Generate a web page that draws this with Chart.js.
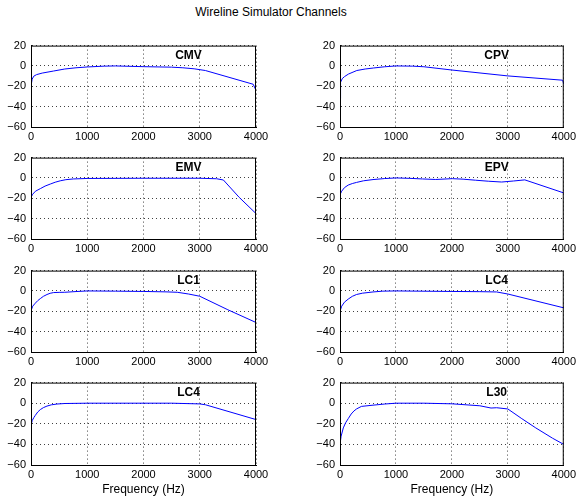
<!DOCTYPE html>
<html>
<head>
<meta charset="utf-8">
<script src="https://cdn.jsdelivr.net/npm/chart.js@4/dist/chart.umd.min.js"></script>
<style>
  body { margin: 0; background: #fff; }
  #fig { position: relative; width: 579px; height: 496px; overflow: hidden; }
  #fig canvas { position: absolute; }
  #suptitle { position: absolute; left: 0; width: 542px; top: 5px; text-align: center;
    font: 12px "Liberation Sans", Arial, sans-serif; color: #000; }
</style>
</head>
<body>
<div id="fig">
  <div id="suptitle">Wireline Simulator Channels</div>
</div>
<script>
// channel names, in subplot order (row by row)
const channelNames = ['CMV', 'CPV', 'EMV', 'EPV', 'LC1', 'LC4', 'LC4', 'L30'];

// frequency (Hz) / attenuation (dB)
const cmvFreq = [0, 20, 50, 100, 200, 400, 600, 800, 1000, 1300, 1500, 2000, 2500, 2700, 2900, 3100, 3950, 4000];
const cmvDb = [-20, -13, -10, -8.5, -7, -5, -3, -1.8, -1, -0.2, 0, -0.7, -1.2, -1.8, -2.8, -4.5, -18, -24];

const cpvFreq = [0, 5, 15, 40, 80, 150, 300, 450, 600, 800, 1000, 1300, 1500, 2000, 3000, 3980, 4000];
const cpvDb = [-32, -22, -16, -12.5, -10.5, -8, -4.5, -3, -2, -0.8, 0, -0.2, -0.8, -4, -9.8, -14, -18];

const emvFreq = [0, 30, 80, 166, 250, 343, 430, 520, 620, 750, 1000, 2000, 3000, 3300, 3420, 3700, 4000];
const emvDb = [-19, -16, -13, -10.5, -8, -6, -4.2, -2.8, -1.7, -1, -0.5, -0.3, -0.3, -0.8, -2, -19, -35];

const epvFreq = [0, 30, 80, 147, 220, 295, 420, 590, 800, 1000, 1250, 1475, 1711, 2006, 2200, 2419, 2650, 2890, 3100, 3304, 4000];
const epvDb = [-16.5, -13, -9.5, -7, -5.5, -4.4, -2.8, -1.6, -0.6, 0, -0.4, -1, -1.5, -0.7, -1.2, -2.2, -3.2, -4, -3, -1.9, -14.7];

const lc1Freq = [0, 30, 77, 120, 166, 220, 284, 340, 402, 500, 600, 800, 1000, 1500, 2000, 2400, 2600, 2800, 3000, 3500, 4000];
const lc1Db = [-19.5, -15, -12, -9.5, -7.5, -5.3, -3.5, -2.3, -1.6, -1.4, -1.3, -0.6, 0, -0.2, -0.5, -0.9, -1.3, -3, -5.2, -18.5, -31];

const lc4aFreq = [0, 30, 80, 147, 220, 295, 400, 590, 767, 1000, 2000, 2500, 2800, 3000, 4000];
const lc4aDb = [-20, -15, -11, -8, -5.3, -3.5, -2.2, -1, -0.2, 0, -0.5, -0.7, -1, -3, -16.6];

const lc4bFreq = [0, 20, 50, 77, 120, 166, 220, 284, 360, 462, 600, 1000, 2500, 3000, 3100, 4000];
const lc4bDb = [-22, -17, -14, -11.8, -8.5, -6.2, -4.3, -2.8, -1.6, -0.8, -0.3, 0, 0, -0.7, -1.5, -15.9];

const l30Freq = [0, 20, 59, 100, 147, 200, 250, 295, 383, 590, 800, 1000, 1500, 2000, 2500, 2700, 2800, 3000, 3250, 3500, 3800, 4000];
const l30Db = [-40, -32, -24, -19, -15, -10.5, -7.5, -5.6, -3.1, -1.9, -0.8, 0, 0, -0.6, -2.5, -4.7, -4.4, -5.6, -15, -24, -34, -40];

const freqs = [cmvFreq, cpvFreq, emvFreq, epvFreq, lc1Freq, lc4aFreq, lc4bFreq, l30Freq];
const dbs = [cmvDb, cpvDb, emvDb, epvDb, lc1Db, lc4aDb, lc4bDb, l30Db];

// axis ticks
const xTicks = [0, 1000, 2000, 3000, 4000];
const yTicks = [-60, -40, -20, 0, 20];

// where the channel name sits, in data units
const labelFreq = 2800;
const labelDb = 10;

Chart.defaults.font.family = '"Liberation Sans", Arial, sans-serif';
Chart.defaults.font.size = 11;
Chart.defaults.color = '#000';

// box round the axes + channel name
const frameAndName = {
  id: 'frameAndName',
  afterDatasetsDraw(chart, args, opts) {
    const { ctx, chartArea: a, scales } = chart;
    ctx.save();
    ctx.strokeStyle = '#000';
    ctx.lineWidth = 1;
    ctx.strokeRect(a.left + 0.5, a.top + 0.5, a.right - a.left - 1, a.bottom - a.top);
    ctx.font = 'bold 12px "Liberation Sans", Arial, sans-serif';
    ctx.fillStyle = '#000';
    ctx.textAlign = 'center';
    ctx.textBaseline = 'middle';
    ctx.fillText(opts.text, scales.x.getPixelForValue(labelFreq), scales.y.getPixelForValue(labelDb));
    ctx.restore();
  }
};

// subplot placement
const colLeft = [0, 290];
const colWidth = [275, 289];
const yAxisWidth = [31, 50];
const rightPad = [19, 13];
const rowTop = [42, 154, 267, 379];
const rowHeight = [85, 85, 85, 86];
const topPad = 8;

const fig = document.getElementById('fig');
const minus = v => String(v).replace('-', '\u2212');

channelNames.forEach((name, i) => {
  const row = Math.floor(i / 2), col = i % 2;
  const last = row === 3;
  const xH = last ? 33 : 16;
  const cv = document.createElement('canvas');
  cv.width = colWidth[col];
  cv.height = topPad + rowHeight[row] + xH;
  cv.style.left = colLeft[col] + 'px';
  cv.style.top = (rowTop[row] - topPad) + 'px';
  fig.appendChild(cv);

  const pts = freqs[i].map((f, k) => ({ x: f, y: dbs[i][k] }));

  new Chart(cv, {
    type: 'line',
    data: {
      datasets: [{
        data: pts,
        borderColor: '#0000ff',
        borderWidth: 1,
        pointRadius: 0,
        tension: 0,
        fill: false
      }]
    },
    options: {
      responsive: false,
      animation: false,
      layout: { padding: { left: 0, right: rightPad[col], top: topPad, bottom: 0 } },
      plugins: {
        legend: { display: false },
        tooltip: { enabled: false },
        frameAndName: { text: name }
      },
      scales: {
        x: {
          type: 'linear',
          min: 0, max: 4000,
          afterBuildTicks: s => { s.ticks = xTicks.map(v => ({ value: v })); },
          afterFit: s => { s.height = xH; },
          grid: { color: 'rgba(0,0,0,0.75)', drawTicks: false },
          border: { color: '#000', dash: [1, 3] },
          ticks: { padding: 3, maxRotation: 0, callback: minus },
          title: { display: last, text: 'Frequency (Hz)', font: { size: 12 }, padding: { top: 0, bottom: 1 } }
        },
        y: {
          type: 'linear',
          min: -60, max: 20,
          afterBuildTicks: s => { s.ticks = yTicks.map(v => ({ value: v })); },
          afterFit: s => { s.width = yAxisWidth[col]; },
          grid: { color: 'rgba(0,0,0,0.75)', drawTicks: false },
          border: { color: '#000', dash: [1, 3] },
          ticks: { padding: 5, callback: minus }
        }
      }
    },
    plugins: [frameAndName]
  });
});
</script>
</body>
</html>
